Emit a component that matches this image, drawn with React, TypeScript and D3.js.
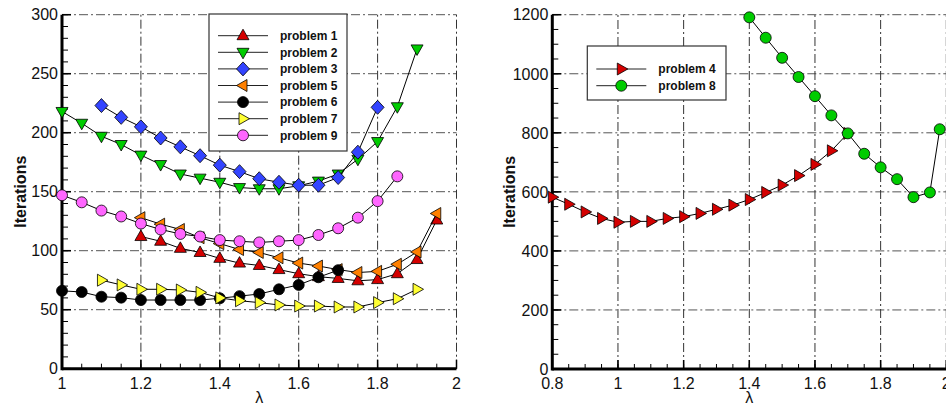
import React from "react";
import * as d3 from "d3";

// ---------- data (left panel) ----------
const lambdaLeft = [1.0, 1.05, 1.1, 1.15, 1.2, 1.25, 1.3, 1.35, 1.4, 1.45, 1.5, 1.55, 1.6, 1.65, 1.7, 1.75, 1.8, 1.85, 1.9, 1.95];

const p1X = [1.2, 1.25, 1.3, 1.35, 1.4, 1.45, 1.5, 1.55, 1.6, 1.65, 1.7, 1.75, 1.8, 1.85, 1.9, 1.95];
const p1Y = [112, 108, 102, 98.5, 93.5, 89.5, 87.5, 84, 80.5, 78, 76.5, 74.5, 75.5, 80.5, 92.5, 126];

const p2X = [1.0, 1.05, 1.1, 1.15, 1.2, 1.25, 1.3, 1.35, 1.4, 1.45, 1.5, 1.55, 1.6, 1.65, 1.7, 1.75, 1.8, 1.85, 1.9];
const p2Y = [218, 208, 197, 190, 181, 173, 165, 161.5, 158, 153.5, 152.5, 152.5, 155, 159, 165, 177.5, 192.5, 222, 271];

const p3X = [1.1, 1.15, 1.2, 1.25, 1.3, 1.35, 1.4, 1.45, 1.5, 1.55, 1.6, 1.65, 1.7, 1.75, 1.8];
const p3Y = [223, 213, 205, 195.5, 188, 180.5, 172.5, 167, 161, 158, 155.5, 155.5, 162, 183.5, 221.5];

const p5X = [1.2, 1.25, 1.3, 1.35, 1.4, 1.45, 1.5, 1.55, 1.6, 1.65, 1.7, 1.75, 1.8, 1.85, 1.9, 1.95];
const p5Y = [128, 122.5, 118, 111, 106, 101, 98.5, 94, 89.5, 87, 84, 81.5, 82.5, 88.5, 99, 131.5];

const p6X = [1.0, 1.05, 1.1, 1.15, 1.2, 1.25, 1.3, 1.35, 1.4, 1.45, 1.5, 1.55, 1.6, 1.65, 1.7];
const p6Y = [66, 65, 61, 60.2, 58.2, 58.2, 58.2, 58.2, 59.7, 61.5, 63.3, 67.3, 71, 77.5, 83.5];

const p7X = [1.1, 1.15, 1.2, 1.25, 1.3, 1.35, 1.4, 1.45, 1.5, 1.55, 1.6, 1.65, 1.7, 1.75, 1.8, 1.85, 1.9];
const p7Y = [75, 71, 67.3, 67.3, 66.7, 64.7, 60, 57.6, 56, 54, 53.1, 53.1, 52.3, 52.3, 56, 59.3, 67.3];

const p9X = [1.0, 1.05, 1.1, 1.15, 1.2, 1.25, 1.3, 1.35, 1.4, 1.45, 1.5, 1.55, 1.6, 1.65, 1.7, 1.75, 1.8, 1.85];
const p9Y = [147, 141, 134, 129, 123, 118, 114.2, 112, 109, 108, 107, 108, 109, 113.3, 119, 128, 142, 163];

// ---------- data (right panel) ----------
const p4X = [0.8, 0.85, 0.9, 0.95, 1.0, 1.05, 1.1, 1.15, 1.2, 1.25, 1.3, 1.35, 1.4, 1.45, 1.5, 1.55, 1.6, 1.65, 1.7];
const p4Y = [582, 558, 532, 510, 497, 500, 500, 510, 516, 527, 541, 555, 574, 598, 623, 655, 693, 739, 798];

const p8X = [1.4, 1.45, 1.5, 1.55, 1.6, 1.65, 1.7, 1.75, 1.8, 1.85, 1.9, 1.95, 1.98];
const p8Y = [1191, 1122, 1054, 989, 924, 859, 798, 729, 683, 643, 582, 598, 812];

const leftXTicks = [1, 1.2, 1.4, 1.6, 1.8, 2];
const leftYTicks = [0, 50, 100, 150, 200, 250, 300];
const rightXTicks = [0.8, 1, 1.2, 1.4, 1.6, 1.8, 2];
const rightYTicks = [0, 200, 400, 600, 800, 1000, 1200];

type Shape = "up" | "down" | "left" | "right" | "diamond" | "circle";
interface Series { name: string; xs: number[]; ys: number[]; color: string; shape: Shape; }

const leftSeries: Series[] = [
  { name: "problem 1", xs: p1X, ys: p1Y, color: "#d40000", shape: "up" },
  { name: "problem 2", xs: p2X, ys: p2Y, color: "#00cc00", shape: "down" },
  { name: "problem 3", xs: p3X, ys: p3Y, color: "#3344ff", shape: "diamond" },
  { name: "problem 5", xs: p5X, ys: p5Y, color: "#ff8000", shape: "left" },
  { name: "problem 6", xs: p6X, ys: p6Y, color: "#000000", shape: "circle" },
  { name: "problem 7", xs: p7X, ys: p7Y, color: "#ffff33", shape: "right" },
  { name: "problem 9", xs: p9X, ys: p9Y, color: "#ff66ff", shape: "circle" },
];
const rightSeries: Series[] = [
  { name: "problem 4", xs: p4X, ys: p4Y, color: "#d40000", shape: "right" },
  { name: "problem 8", xs: p8X, ys: p8Y, color: "#00cc00", shape: "circle" },
];

function markerPath(shape: Shape): string | null {
  switch (shape) {
    case "up": return "M0,-6.5L6,4L-6,4Z";
    case "down": return "M0,6.5L6,-4L-6,-4Z";
    case "left": return "M-6.5,0L4,-6L4,6Z";
    case "right": return "M6.5,0L-4,-6L-4,6Z";
    case "diamond": return "M0,-7L6.5,0L0,7L-6.5,0Z";
    default: return null;
  }
}

function Marker({ x, y, s }: { x: number; y: number; s: Series }) {
  const p = markerPath(s.shape);
  if (p === null) {
    return <circle cx={x} cy={y} r={5.5} fill={s.color} stroke="#000" strokeWidth={0.8} />;
  }
  return <path d={p} transform={`translate(${x},${y})`} fill={s.color} stroke="#000" strokeWidth={0.8} />;
}

const FONT = "'Liberation Sans', Arial, Helvetica, sans-serif";

interface PanelProps {
  x0: number; x1: number; y0: number; y1: number;
  xDomain: [number, number]; yDomain: [number, number];
  xTicks: number[]; yTicks: number[];
  xMinorStep: number; yMinorStep: number;
  series: Series[];
  ylabelX: number;
  legend: { x: number; y: number; w: number; h: number; firstY: number; step: number };
}

function Panel(props: PanelProps) {
  const { x0, x1, y0, y1, xDomain, yDomain, xTicks, yTicks, xMinorStep, yMinorStep, series, ylabelX, legend } = props;
  const xs = d3.scaleLinear().domain(xDomain).range([x0, x1]);
  const ys = d3.scaleLinear().domain(yDomain).range([y0, y1]);
  const line = d3.line<[number, number]>().x(d => xs(d[0])).y(d => ys(d[1]));

  const xMinor = d3.range(xDomain[0], xDomain[1] + 1e-9, xMinorStep);
  const yMinor = d3.range(yDomain[0], yDomain[1] + 1e-9, yMinorStep);
  const dash = "9,3,2,3";

  return (
    <g>
      {/* grid */}
      {yTicks.filter(t => t !== yDomain[0]).map(t => (
        <line key={"gy" + t} x1={x0} x2={x1} y1={ys(t)} y2={ys(t)} stroke="#555" strokeWidth={1} strokeDasharray={dash} />
      ))}
      {xTicks.filter(t => t !== xDomain[0]).map(t => (
        <line key={"gx" + t} x1={xs(t)} x2={xs(t)} y1={y0} y2={y1} stroke="#333" strokeWidth={1} strokeDasharray={dash} />
      ))}
      {/* ticks */}
      {xMinor.map((t, i) => (
        <line key={"mx" + i} x1={xs(t)} x2={xs(t)} y1={y0} y2={y0 - 5} stroke="#000" strokeWidth={1} />
      ))}
      {yMinor.map((t, i) => (
        <line key={"my" + i} x1={x0} x2={x0 + 6} y1={ys(t)} y2={ys(t)} stroke="#000" strokeWidth={1} />
      ))}
      {xTicks.map(t => (
        <line key={"Mx" + t} x1={xs(t)} x2={xs(t)} y1={y0} y2={y0 - 9} stroke="#000" strokeWidth={1.5} />
      ))}
      {yTicks.map(t => (
        <line key={"My" + t} x1={x0} x2={x0 + 9} y1={ys(t)} y2={ys(t)} stroke="#000" strokeWidth={1.5} />
      ))}
      {/* axes */}
      <line x1={x0} x2={x0} y1={y0 + 1.5} y2={y1} stroke="#000" strokeWidth={3} />
      <line x1={x0} x2={x1} y1={y0} y2={y0} stroke="#000" strokeWidth={3} />
      {/* tick labels */}
      {xTicks.map(t => (
        <text key={"lx" + t} x={xs(t)} y={y0 + 20} textAnchor="middle" fontSize={16} fontFamily={FONT} fill="#111">{d3.format("~g")(t)}</text>
      ))}
      {yTicks.map(t => (
        <text key={"ly" + t} x={x0 - 4} y={ys(t)} dy="0.36em" textAnchor="end" fontSize={16} fontFamily={FONT} fill="#111">{t}</text>
      ))}
      <text x={(x0 + x1) / 2} y={y0 + 34} textAnchor="middle" fontSize={16} fontFamily={FONT} fill="#111">λ</text>
      <text transform={`translate(${ylabelX},${(y0 + y1) / 2}) rotate(-90)`} textAnchor="middle" dy="0.36em" fontSize={16} fontWeight="bold" fontFamily={FONT} fill="#111">Iterations</text>
      {/* series */}
      {series.map(s => {
        const pts: [number, number][] = s.xs.map((x, i) => [x, s.ys[i]]);
        return (
          <g key={s.name}>
            <path d={line(pts) || ""} fill="none" stroke="#000" strokeWidth={1} />
            {pts.map((p, i) => <Marker key={i} x={xs(p[0])} y={ys(p[1])} s={s} />)}
          </g>
        );
      })}
      {/* legend */}
      <rect x={legend.x} y={legend.y} width={legend.w} height={legend.h} fill="#fff" stroke="#333" strokeWidth={1.2} />
      {series.map((s, i) => {
        const ly = legend.firstY + i * legend.step;
        const lx0 = legend.x + 9;
        return (
          <g key={"leg" + s.name}>
            <line x1={lx0} x2={lx0 + 50} y1={ly} y2={ly} stroke="#222" strokeWidth={1} />
            <Marker x={lx0 + 25} y={ly} s={s} />
            <text x={lx0 + 62} y={ly} dy="0.36em" fontSize={12} fontWeight="bold" fontFamily={FONT} fill="#111">{s.name}</text>
          </g>
        );
      })}
    </g>
  );
}

export default function App() {
  return (
    <svg width={946} height={407} style={{ position: "absolute", left: 0, top: 0, background: "#fff" }}>
      <rect x={0} y={0} width={946} height={407} fill="#fff" />
      <Panel
        x0={62} x1={456.5} y0={368.7} y1={14.7}
        xDomain={[1, 2]} yDomain={[0, 300]}
        xTicks={leftXTicks} yTicks={leftYTicks}
        xMinorStep={0.05} yMinorStep={10}
        series={leftSeries} ylabelX={20}
        legend={{ x: 209, y: 14, w: 138, h: 137, firstY: 35.7, step: 16.6 }}
      />
      <Panel
        x0={552.3} x1={946.3} y0={369} y1={14.7}
        xDomain={[0.8, 2]} yDomain={[0, 1200]}
        xTicks={rightXTicks} yTicks={rightYTicks}
        xMinorStep={0.05} yMinorStep={50}
        series={rightSeries} ylabelX={509}
        legend={{ x: 587.3, y: 46, w: 138.7, h: 54, firstY: 69, step: 16.7 }}
      />
    </svg>
  );
}
